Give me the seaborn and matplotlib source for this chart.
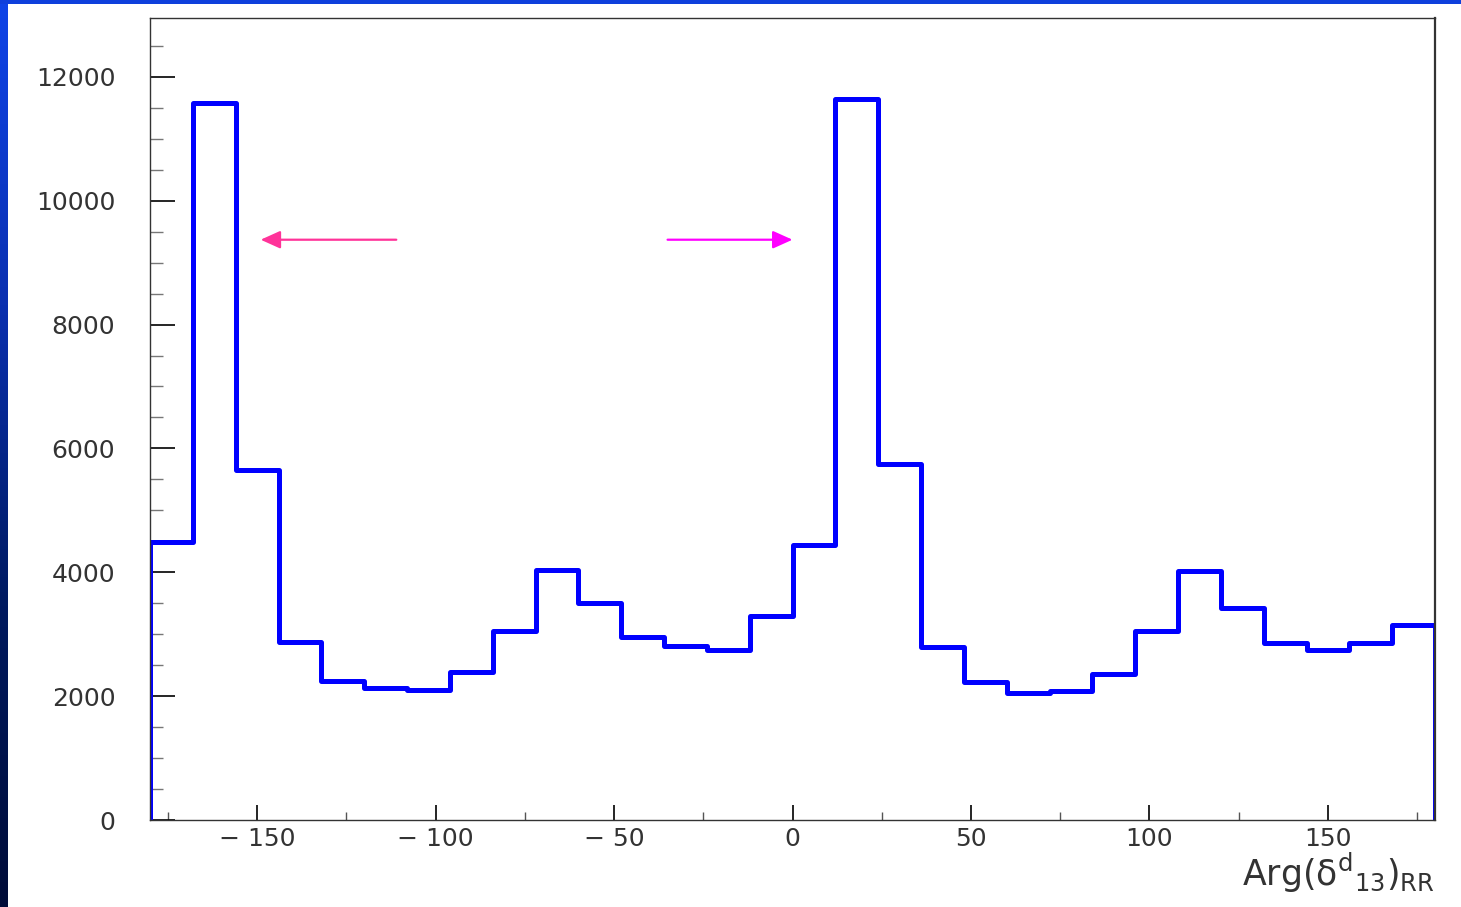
import numpy as np
import pandas as pd
import matplotlib
matplotlib.use("Agg")
import matplotlib.pyplot as plt
from matplotlib.ticker import MultipleLocator, FuncFormatter
from matplotlib.patches import Rectangle
import seaborn as sns

# Histogram of the phase, 30 bins of 12 degrees
bin_edges = np.arange(-180, 181, 12)
counts = [4490, 11580, 5650, 2875, 2245, 2130, 2100, 2390, 3050, 4040,
          3505, 2955, 2810, 2745, 3295, 4440, 11645, 5750, 2795, 2230,
          2050, 2085, 2360, 3050, 4025, 3425, 2860, 2745, 2860, 3150]
bin_centers = (bin_edges[:-1] + bin_edges[1:]) / 2

# Arrows marking the two peaks (x_start, x_end, y)
arrow_left = (-111, -149, 9370)
arrow_right = (-35, 0, 9370)

x_label = r"Arg($\delta^{\mathrm{d}}{}_{\mathrm{13}}$)$_{\mathrm{RR}}$"

sns.set_theme(style="white")
plt.rcParams["font.family"] = ["DejaVu Sans"]
plt.rcParams["mathtext.default"] = "regular"

df = pd.DataFrame({"phase": bin_centers, "n": counts})

fig = plt.figure(figsize=(14.61, 9.07), dpi=100)
fig.patch.set_facecolor("white")
ax = fig.add_axes([150 / 1461, 1 - 820 / 907, (1435 - 150) / 1461, (820 - 18) / 907])

sns.histplot(data=df, x="phase", weights="n", binwidth=12,
             binrange=(bin_edges[0], bin_edges[-1]), element="step",
             fill=False, color="#0000ff", linewidth=3.6, ax=ax)
# close the outline down to zero at both outer edges
ax.vlines([bin_edges[0], bin_edges[-1]], 0, [counts[0], counts[-1]],
          color="#0000ff", linewidth=3.6)

ax.set_xlim(-180, 180)
ax.set_ylim(0, 12950)

ax.annotate("", xy=(arrow_left[1], arrow_left[2]), xytext=(arrow_left[0], arrow_left[2]),
            arrowprops=dict(arrowstyle="-|>,head_length=1.0,head_width=0.45",
                            color="#ff3399", lw=1.6, shrinkA=0, shrinkB=0))
ax.annotate("", xy=(arrow_right[1], arrow_right[2]), xytext=(arrow_right[0], arrow_right[2]),
            arrowprops=dict(arrowstyle="-|>,head_length=1.0,head_width=0.45",
                            color="#ff00ff", lw=1.6, shrinkA=0, shrinkB=0))

for s in ax.spines.values():
    s.set_color("#333333")
    s.set_linewidth(1.0)
ax.spines["right"].set_linewidth(1.6)

ax.xaxis.set_major_locator(MultipleLocator(50))
ax.xaxis.set_minor_locator(MultipleLocator(25))
ax.yaxis.set_major_locator(MultipleLocator(2000))
ax.yaxis.set_minor_locator(MultipleLocator(500))
ax.xaxis.set_major_formatter(FuncFormatter(
    lambda v, p: ("\u2212 " + f"{int(-v)}") if v < 0 else f"{int(v)}"))
ax.yaxis.set_major_formatter(FuncFormatter(lambda v, p: f"{int(v)}"))

ax.tick_params(axis="x", which="major", direction="in", length=11, width=1.2,
               color="black", bottom=True, top=False, labelsize=18, pad=5,
               labelcolor="#333333")
ax.tick_params(axis="x", which="minor", direction="in", length=6, width=1,
               color="#555555", bottom=True, top=False)
ax.tick_params(axis="y", which="major", direction="in", length=18, width=1.2,
               color="black", left=True, right=False, labelsize=18, pad=25,
               labelcolor="#333333")
ax.tick_params(axis="y", which="minor", direction="in", length=9, width=1,
               color="#777777", left=True, right=False)

ax.set_ylabel("")
ax.set_xlabel("")
ax.text(1.0, -0.038, x_label, transform=ax.transAxes, ha="right", va="top",
        fontsize=25, color="#333333")

# blue frame strips along the top and left edges
fig.patches.append(Rectangle((0, 1 - 4 / 907), 1, 4 / 907, transform=fig.transFigure,
                             facecolor="#0e3fdc", edgecolor="none", zorder=10))
gax = fig.add_axes([0, 0, 8 / 1461, 1])
grad = np.linspace(0, 1, 256).reshape(-1, 1)
cmap = matplotlib.colors.LinearSegmentedColormap.from_list(
    "edge", ["#0f44e8", "#0a30b0", "#001a60", "#000c38"])
gax.imshow(grad, aspect="auto", cmap=cmap)
gax.set_axis_off()

fig.savefig("out.png", dpi=100)
